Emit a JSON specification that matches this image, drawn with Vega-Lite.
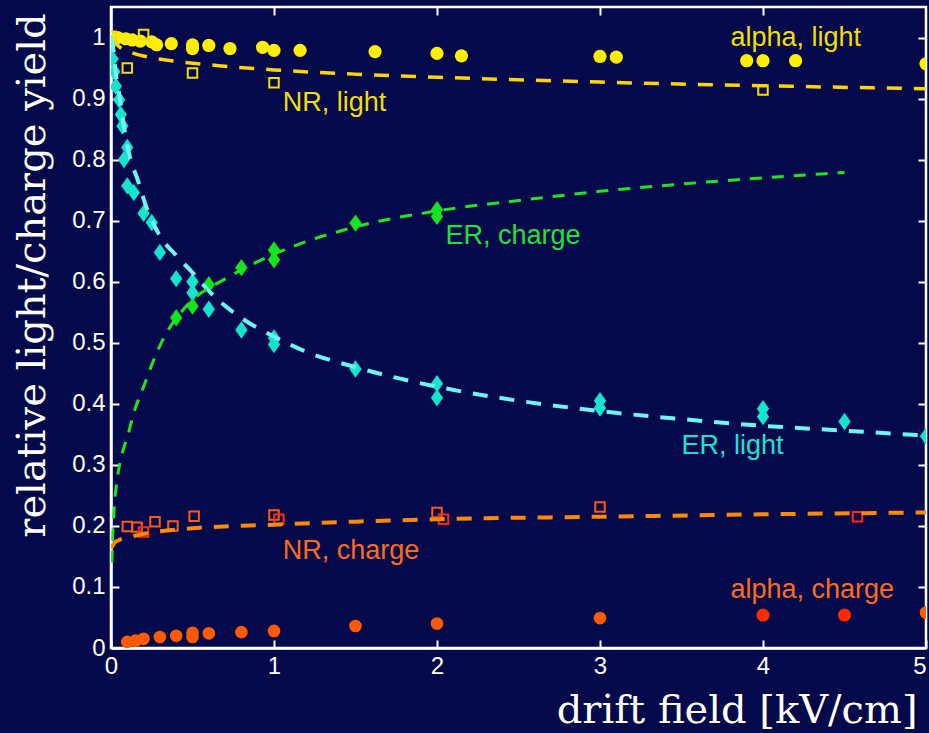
{
  "$schema": "https://vega.github.io/schema/vega-lite/v6.json",
  "width": 815,
  "height": 641,
  "autosize": {"type": "none"},
  "padding": {"left": 111, "top": 7, "right": 3, "bottom": 85},
  "background": "#03094b",
  "config": {
    "view": {"stroke": "white", "strokeWidth": 2.5, "fill": "#03094b"},
    "axis": {
      "domainColor": "white", "domainWidth": 2.5,
      "tickColor": "white", "tickWidth": 2, "tickSize": -8,
      "labelColor": "white", "labelFont": "Liberation Sans", "labelFontSize": 24,
      "grid": false,
      "titleColor": "white", "titleFont": "DejaVu Serif", "titleFontSize": 40, "titleFontWeight": "normal"
    }
  },
  "datasets": {
    "pts": [
      {"s": "al", "x": 0.04, "y": 1.0}, {"s": "al", "x": 0.09, "y": 0.998}, {"s": "al", "x": 0.13, "y": 0.996},
      {"s": "al", "x": 0.18, "y": 0.994}, {"s": "al", "x": 0.25, "y": 0.993}, {"s": "al", "x": 0.28, "y": 0.988},
      {"s": "al", "x": 0.37, "y": 0.99}, {"s": "al", "x": 0.5, "y": 0.988}, {"s": "al", "x": 0.5, "y": 0.982},
      {"s": "al", "x": 0.6, "y": 0.987}, {"s": "al", "x": 0.73, "y": 0.982}, {"s": "al", "x": 0.93, "y": 0.984},
      {"s": "al", "x": 1.0, "y": 0.979}, {"s": "al", "x": 1.16, "y": 0.979}, {"s": "al", "x": 1.62, "y": 0.977},
      {"s": "al", "x": 2.0, "y": 0.974}, {"s": "al", "x": 2.15, "y": 0.97}, {"s": "al", "x": 3.0, "y": 0.969},
      {"s": "al", "x": 3.1, "y": 0.968}, {"s": "al", "x": 3.9, "y": 0.962}, {"s": "al", "x": 4.0, "y": 0.962},
      {"s": "al", "x": 4.2, "y": 0.962}, {"s": "al", "x": 5.0, "y": 0.957},

      {"s": "nl", "x": 0.0, "y": 1.002}, {"s": "nl", "x": 0.1, "y": 0.95}, {"s": "nl", "x": 0.2, "y": 1.005},
      {"s": "nl", "x": 0.5, "y": 0.942}, {"s": "nl", "x": 1.0, "y": 0.926}, {"s": "nl", "x": 4.0, "y": 0.914},

      {"s": "el", "x": 0.0, "y": 0.99}, {"s": "el", "x": 0.01, "y": 0.965}, {"s": "el", "x": 0.02, "y": 0.944},
      {"s": "el", "x": 0.03, "y": 0.92}, {"s": "el", "x": 0.05, "y": 0.898}, {"s": "el", "x": 0.06, "y": 0.874},
      {"s": "el", "x": 0.07, "y": 0.855}, {"s": "el", "x": 0.1, "y": 0.82}, {"s": "el", "x": 0.08, "y": 0.8},
      {"s": "el", "x": 0.1, "y": 0.757}, {"s": "el", "x": 0.14, "y": 0.746}, {"s": "el", "x": 0.2, "y": 0.712},
      {"s": "el", "x": 0.25, "y": 0.697}, {"s": "el", "x": 0.3, "y": 0.648}, {"s": "el", "x": 0.4, "y": 0.605},
      {"s": "el", "x": 0.5, "y": 0.6}, {"s": "el", "x": 0.5, "y": 0.582}, {"s": "el", "x": 0.6, "y": 0.555},
      {"s": "el", "x": 0.8, "y": 0.521}, {"s": "el", "x": 1.0, "y": 0.508}, {"s": "el", "x": 1.0, "y": 0.497},
      {"s": "el", "x": 1.5, "y": 0.457}, {"s": "el", "x": 2.0, "y": 0.433}, {"s": "el", "x": 2.0, "y": 0.41},
      {"s": "el", "x": 3.0, "y": 0.405}, {"s": "el", "x": 3.0, "y": 0.393}, {"s": "el", "x": 4.0, "y": 0.392},
      {"s": "el", "x": 4.0, "y": 0.379}, {"s": "el", "x": 4.5, "y": 0.371}, {"s": "el", "x": 5.0, "y": 0.347},

      {"s": "ec", "x": 0.4, "y": 0.541}, {"s": "ec", "x": 0.5, "y": 0.56}, {"s": "ec", "x": 0.6, "y": 0.595},
      {"s": "ec", "x": 0.8, "y": 0.623}, {"s": "ec", "x": 1.0, "y": 0.652}, {"s": "ec", "x": 1.0, "y": 0.636},
      {"s": "ec", "x": 1.5, "y": 0.696}, {"s": "ec", "x": 2.0, "y": 0.718}, {"s": "ec", "x": 2.0, "y": 0.707},

      {"s": "nc", "x": 0.1, "y": 0.199}, {"s": "nc", "x": 0.16, "y": 0.198}, {"s": "nc", "x": 0.27, "y": 0.207},
      {"s": "nc", "x": 0.38, "y": 0.2}, {"s": "nc", "x": 0.51, "y": 0.216}, {"s": "nc", "x": 1.0, "y": 0.218},
      {"s": "nc", "x": 2.0, "y": 0.222}, {"s": "nc", "x": 3.0, "y": 0.231},
      {"s": "nc2", "x": 0.2, "y": 0.19}, {"s": "nc2", "x": 1.03, "y": 0.211}, {"s": "nc2", "x": 2.04, "y": 0.211},
      {"s": "nc2", "x": 4.58, "y": 0.215},

      {"s": "ac", "x": 0.1, "y": 0.01}, {"s": "ac", "x": 0.15, "y": 0.012}, {"s": "ac", "x": 0.2, "y": 0.015},
      {"s": "ac", "x": 0.3, "y": 0.018}, {"s": "ac", "x": 0.4, "y": 0.02}, {"s": "ac", "x": 0.5, "y": 0.018},
      {"s": "ac", "x": 0.5, "y": 0.025}, {"s": "ac", "x": 0.6, "y": 0.024}, {"s": "ac", "x": 0.8, "y": 0.026},
      {"s": "ac", "x": 1.0, "y": 0.028}, {"s": "ac", "x": 1.5, "y": 0.036}, {"s": "ac", "x": 2.0, "y": 0.04},
      {"s": "ac", "x": 3.0, "y": 0.049}, {"s": "ac", "x": 5.0, "y": 0.058},
      {"s": "ac2", "x": 4.0, "y": 0.054}, {"s": "ac2", "x": 4.5, "y": 0.054}
    ],
    "fits": [
      {"s": "nlf", "x": 0.0, "y": 1.0}, {"s": "nlf", "x": 0.05, "y": 0.985}, {"s": "nlf", "x": 0.13, "y": 0.975},
      {"s": "nlf", "x": 0.25, "y": 0.967}, {"s": "nlf", "x": 0.4, "y": 0.961}, {"s": "nlf", "x": 0.7, "y": 0.953},
      {"s": "nlf", "x": 1.0, "y": 0.947}, {"s": "nlf", "x": 1.5, "y": 0.94}, {"s": "nlf", "x": 2.0, "y": 0.935},
      {"s": "nlf", "x": 3.0, "y": 0.927}, {"s": "nlf", "x": 4.0, "y": 0.921}, {"s": "nlf", "x": 5.0, "y": 0.916},

      {"s": "elf", "x": 0.0, "y": 1.0}, {"s": "elf", "x": 0.01, "y": 0.99}, {"s": "elf", "x": 0.03, "y": 0.94},
      {"s": "elf", "x": 0.055, "y": 0.9}, {"s": "elf", "x": 0.085, "y": 0.845}, {"s": "elf", "x": 0.12, "y": 0.8},
      {"s": "elf", "x": 0.16, "y": 0.77}, {"s": "elf", "x": 0.22, "y": 0.72}, {"s": "elf", "x": 0.3, "y": 0.675},
      {"s": "elf", "x": 0.4, "y": 0.643}, {"s": "elf", "x": 0.5, "y": 0.615}, {"s": "elf", "x": 0.6, "y": 0.585},
      {"s": "elf", "x": 0.75, "y": 0.55}, {"s": "elf", "x": 1.0, "y": 0.51}, {"s": "elf", "x": 1.2, "y": 0.485},
      {"s": "elf", "x": 1.5, "y": 0.46}, {"s": "elf", "x": 2.0, "y": 0.428}, {"s": "elf", "x": 2.5, "y": 0.405},
      {"s": "elf", "x": 3.0, "y": 0.388}, {"s": "elf", "x": 3.5, "y": 0.375}, {"s": "elf", "x": 4.0, "y": 0.364},
      {"s": "elf", "x": 4.5, "y": 0.356}, {"s": "elf", "x": 5.0, "y": 0.348},

      {"s": "ecf", "x": 0.005, "y": 0.14}, {"s": "ecf", "x": 0.01, "y": 0.18}, {"s": "ecf", "x": 0.02, "y": 0.23},
      {"s": "ecf", "x": 0.04, "y": 0.28}, {"s": "ecf", "x": 0.07, "y": 0.32}, {"s": "ecf", "x": 0.1, "y": 0.345},
      {"s": "ecf", "x": 0.14, "y": 0.385}, {"s": "ecf", "x": 0.2, "y": 0.428}, {"s": "ecf", "x": 0.27, "y": 0.477},
      {"s": "ecf", "x": 0.34, "y": 0.516}, {"s": "ecf", "x": 0.4, "y": 0.54}, {"s": "ecf", "x": 0.5, "y": 0.57},
      {"s": "ecf", "x": 0.69, "y": 0.603}, {"s": "ecf", "x": 1.0, "y": 0.645}, {"s": "ecf", "x": 1.5, "y": 0.69},
      {"s": "ecf", "x": 2.0, "y": 0.716}, {"s": "ecf", "x": 2.5, "y": 0.733}, {"s": "ecf", "x": 3.0, "y": 0.748},
      {"s": "ecf", "x": 3.5, "y": 0.76}, {"s": "ecf", "x": 4.0, "y": 0.77}, {"s": "ecf", "x": 4.5, "y": 0.779},

      {"s": "ncf", "x": 0.0, "y": 0.163}, {"s": "ncf", "x": 0.02, "y": 0.172}, {"s": "ncf", "x": 0.05, "y": 0.177},
      {"s": "ncf", "x": 0.1, "y": 0.181}, {"s": "ncf", "x": 0.2, "y": 0.187}, {"s": "ncf", "x": 0.5, "y": 0.196},
      {"s": "ncf", "x": 1.0, "y": 0.202}, {"s": "ncf", "x": 1.5, "y": 0.207}, {"s": "ncf", "x": 2.0, "y": 0.211},
      {"s": "ncf", "x": 3.0, "y": 0.215}, {"s": "ncf", "x": 4.0, "y": 0.219}, {"s": "ncf", "x": 5.0, "y": 0.222}
    ],
    "labels": [
      {"c": "yl", "label": "alpha, light", "x": 3.8, "y": 0.986},
      {"c": "yl", "label": "NR, light", "x": 1.053, "y": 0.879},
      {"c": "gr", "label": "ER, charge", "x": 2.052, "y": 0.662},
      {"c": "cy", "label": "ER, light", "x": 3.5, "y": 0.318},
      {"c": "or", "label": "NR, charge", "x": 1.053, "y": 0.145},
      {"c": "or", "label": "alpha, charge", "x": 3.8, "y": 0.082}
    ]
  },
  "layer": [
    {
      "encoding": {
        "x": {
          "field": "x", "type": "quantitative",
          "scale": {"domain": [0, 5], "nice": false, "zero": false},
          "axis": {
            "title": "drift field [kV/cm]", "values": [0, 1, 2, 3, 4, 5], "format": "~g",
            "labelPadding": 14, "labelFlush": false,
            "labelAlign": {"condition": {"test": "datum.value == 5", "value": "right"}, "value": "center"},
            "titleAnchor": "end", "titleAlign": "right", "titleBaseline": "alphabetic",
            "titleX": 806, "titleY": 74
          }
        },
        "y": {
          "field": "y", "type": "quantitative",
          "scale": {"domain": [0, 1.05], "nice": false, "zero": false},
          "axis": {
            "title": "relative light/charge yield", "values": [0, 0.1, 0.2, 0.3, 0.4, 0.5, 0.6, 0.7, 0.8, 0.9, 1], "format": "~g",
            "labelPadding": 14, "labelFlush": false,
            "titleAngle": -90, "titleAlign": "center", "titleBaseline": "alphabetic",
            "titleX": -67, "titleY": 268
          }
        }
      },
      "layer": [
        {
          "data": {"name": "pts"},
          "transform": [{"filter": "datum.s == 'al'"}],
          "mark": {"type": "point", "shape": "circle", "filled": true, "size": 175, "color": "#ffee00", "opacity": 1, "clip": true}
        },
        {
          "data": {"name": "pts"},
          "transform": [{"filter": "datum.s == 'nl'"}],
          "mark": {"type": "point", "shape": "square", "filled": false, "size": 90, "color": "#f5dc00", "strokeWidth": 2, "opacity": 1, "clip": true}
        },
        {
          "data": {"name": "pts"},
          "transform": [{"filter": "datum.s == 'el'"}],
          "mark": {"type": "point", "shape": "M0,-1.2L0.85,0L0,1.2L-0.85,0Z", "filled": true, "size": 210, "color": "#14e3cd", "opacity": 1, "clip": true}
        },
        {
          "data": {"name": "pts"},
          "transform": [{"filter": "datum.s == 'ec'"}],
          "mark": {"type": "point", "shape": "M0,-1.2L0.85,0L0,1.2L-0.85,0Z", "filled": true, "size": 210, "color": "#12e41e", "opacity": 1, "clip": true}
        },
        {
          "data": {"name": "pts"},
          "transform": [{"filter": "datum.s == 'nc'"}],
          "mark": {"type": "point", "shape": "square", "filled": false, "size": 90, "color": "#ff5a14", "strokeWidth": 2, "opacity": 1, "clip": true}
        },
        {
          "data": {"name": "pts"},
          "transform": [{"filter": "datum.s == 'nc2'"}],
          "mark": {"type": "point", "shape": "square", "filled": false, "size": 90, "color": "#ff2a10", "strokeWidth": 2, "opacity": 1, "clip": true}
        },
        {
          "data": {"name": "pts"},
          "transform": [{"filter": "datum.s == 'ac'"}],
          "mark": {"type": "point", "shape": "circle", "filled": true, "size": 160, "color": "#ff5a00", "opacity": 1, "clip": true}
        },
        {
          "data": {"name": "pts"},
          "transform": [{"filter": "datum.s == 'ac2'"}],
          "mark": {"type": "point", "shape": "circle", "filled": true, "size": 170, "color": "#ff2a00", "opacity": 1, "clip": true}
        },
        {
          "data": {"name": "fits"},
          "transform": [{"filter": "datum.s == 'nlf'"}],
          "mark": {"type": "line", "color": "#ffd500", "strokeWidth": 3.5, "strokeDash": [15, 12], "interpolate": "monotone", "clip": true}
        },
        {
          "data": {"name": "fits"},
          "transform": [{"filter": "datum.s == 'elf'"}],
          "mark": {"type": "line", "color": "#6ef5f5", "strokeWidth": 4, "strokeDash": [15, 12], "interpolate": "monotone", "clip": true}
        },
        {
          "data": {"name": "fits"},
          "transform": [{"filter": "datum.s == 'ecf'"}],
          "mark": {"type": "line", "color": "#1ee61e", "strokeWidth": 3, "strokeDash": [12, 10], "interpolate": "monotone", "clip": true}
        },
        {
          "data": {"name": "fits"},
          "transform": [{"filter": "datum.s == 'ncf'"}],
          "mark": {"type": "line", "color": "#ff8a00", "strokeWidth": 4, "strokeDash": [15, 12], "interpolate": "monotone", "clip": true}
        },
        {
          "data": {"name": "labels"},
          "mark": {"type": "text", "align": "left", "baseline": "alphabetic", "font": "Liberation Sans", "fontSize": 27},
          "encoding": {
            "text": {"field": "label"},
            "color": {
              "field": "c", "type": "nominal", "legend": null,
              "scale": {"domain": ["yl", "gr", "cy", "or"], "range": ["#f2de00", "#20e238", "#20e0d0", "#ff6a1c"]}
            }
          }
        }
      ]
    },
    {
      "data": {"name": "labels"},
      "mark": {"type": "text", "text": "", "opacity": 0},
      "encoding": {
        "x": {
          "field": "x", "type": "quantitative",
          "axis": {"orient": "top", "title": null, "labels": false, "domain": false, "values": [1, 2, 3, 4]}
        },
        "y": {
          "field": "y", "type": "quantitative",
          "axis": {"orient": "right", "title": null, "labels": false, "domain": false, "values": [0.1, 0.2, 0.3, 0.4, 0.5, 0.6, 0.7, 0.8, 0.9, 1]}
        }
      }
    }
  ],
  "resolve": {"axis": {"x": "independent", "y": "independent"}}
}
